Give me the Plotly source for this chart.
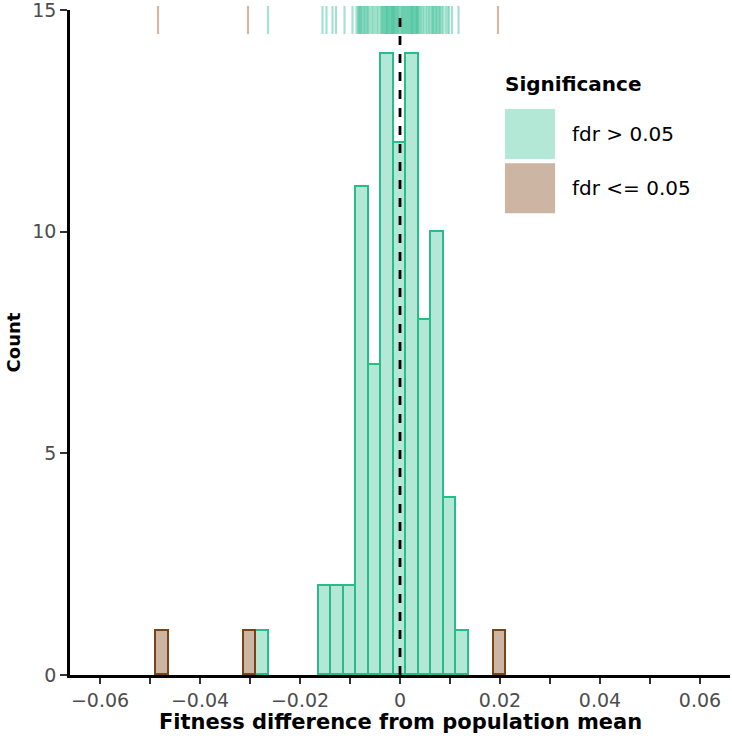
import plotly.graph_objects as go

fdr_high = [
    -0.0264,
    -0.0155, -0.0147,
    -0.0135, -0.0128,
    -0.0111, -0.0095,
    -0.0087, -0.0084, -0.0082, -0.0080, -0.0078, -0.0076, -0.0073, -0.0071,
    -0.0069, -0.0066, -0.0064,
    -0.0061, -0.0057, -0.0054, -0.0050, -0.0046, -0.0043, -0.0039,
    -0.0037, -0.0035, -0.0033, -0.0031, -0.0029, -0.0027, -0.0026, -0.0024,
    -0.0022, -0.0020, -0.0018, -0.0016, -0.0015, -0.0013,
    -0.0012, -0.0010, -0.0008, -0.0006, -0.0004, -0.0002, 0.0001, 0.0003,
    0.0005, 0.0007, 0.0009, 0.0011,
    0.0013, 0.0015, 0.0017, 0.0019, 0.0021, 0.0023, 0.0024, 0.0026,
    0.0028, 0.0030, 0.0032, 0.0034, 0.0035, 0.0037,
    0.0039, 0.0042, 0.0045, 0.0048, 0.0052, 0.0055, 0.0058, 0.0061,
    0.0064, 0.0066, 0.0068, 0.0071, 0.0073, 0.0075, 0.0078, 0.0080, 0.0083, 0.0086,
    0.0091, 0.0095, 0.0098, 0.0104,
    0.0117,
]
fdr_low = [-0.0484, -0.0304, 0.0196]

groups = ["fdr > 0.05", "fdr <= 0.05"]
fills = ["#b3e8d7", "#cdb5a3"]
edges = ["#28bc89", "#7a4516"]
rug_cols = ["rgba(30,182,132,0.4)", "rgba(165,115,75,0.5)"]

x_ticks = [-0.06, -0.04, -0.02, 0, 0.02, 0.04, 0.06]
y_ticks = [0, 5, 10, 15]

BW = 0.0025
FONT = "DejaVu Sans, Liberation Sans, sans-serif"

fig = go.Figure()
for vals, name, fc, ec in zip([fdr_high, fdr_low], groups, fills, edges):
    fig.add_trace(go.Histogram(
        x=vals, name=name, showlegend=False,
        xbins=dict(start=-20.5 * BW, end=12.5 * BW, size=BW),
        marker=dict(color=fc, line=dict(color=ec, width=1.8))))

for vals, col in zip([fdr_high, fdr_low], rug_cols):
    fig.add_trace(go.Scatter(
        x=vals, y=[14.775] * len(vals), mode="markers", showlegend=False,
        hoverinfo="x", cliponaxis=False,
        marker=dict(symbol="line-ns", size=20, line=dict(color=col, width=2.2))))

fig.add_shape(type="line", x0=0, x1=0, y0=0, y1=15, xref="x", yref="y",
              line=dict(color="black", width=2.8, dash="dash"), layer="above")

# hand-built legend with big swatches (ggplot style)
fig.add_annotation(x=0.656, y=0.889, xref="paper", yref="paper", showarrow=False,
                   xanchor="left", yanchor="middle", text="<b>Significance</b>",
                   font=dict(size=20, color="black", family=FONT))
for i, (name, fc) in enumerate(zip(groups, fills)):
    top = 0.851 - i * 0.0815
    fig.add_shape(type="rect", xref="paper", yref="paper",
                  x0=0.659, x1=0.735, y0=top - 0.075, y1=top,
                  fillcolor=fc, line=dict(width=0))
    fig.add_annotation(x=0.757, y=top - 0.0375, xref="paper", yref="paper",
                       showarrow=False, xanchor="left", yanchor="middle", text=name,
                       font=dict(size=20, color="black", family=FONT))

# axis titles as annotations so they sit exactly where ggplot put them
fig.add_annotation(x=0.5, y=-0.071, xref="paper", yref="paper", showarrow=False,
                   xanchor="center", yanchor="middle",
                   text="<b>Fitness difference from population mean</b>",
                   font=dict(size=21, color="black", family=FONT))
fig.add_annotation(x=-0.085, y=0.5, xref="paper", yref="paper", showarrow=False,
                   xanchor="center", yanchor="middle", textangle=-90,
                   text="<b>Count</b>",
                   font=dict(size=18, color="black", family=FONT))

fig.update_layout(
    width=732, height=740, barmode="stack", bargap=0,
    plot_bgcolor="white", paper_bgcolor="white",
    margin=dict(l=70, r=2, t=10, b=65),
    font=dict(family=FONT, color="#4d4d4d", size=20),
)
fig.update_xaxes(
    range=[-0.066, 0.066], tickvals=x_ticks, ticks="outside", ticklen=6,
    tickwidth=2, tickcolor="#333333", showline=True, linecolor="black",
    linewidth=2.5, showgrid=False, zeroline=False, automargin=False,
    minor=dict(dtick=0.01, tick0=0, ticks="outside", ticklen=6,
               tickwidth=2, tickcolor="#333333", showgrid=False),
    ticklabeloverflow="allow", tickfont=dict(size=19, color="#4d4d4d"))
fig.update_yaxes(
    range=[0, 15], tickvals=y_ticks, ticks="outside", ticklen=7,
    tickwidth=2, tickcolor="#333333", showline=True, linecolor="black",
    linewidth=2.5, showgrid=False, zeroline=False, automargin=False,
    ticklabeloverflow="allow", tickfont=dict(size=19, color="#4d4d4d"))

# the page's default 8px body margin would shift the whole figure
fig.write_html("out.html", config={"displayModeBar": False},
               post_script="document.body.style.margin='0';")
